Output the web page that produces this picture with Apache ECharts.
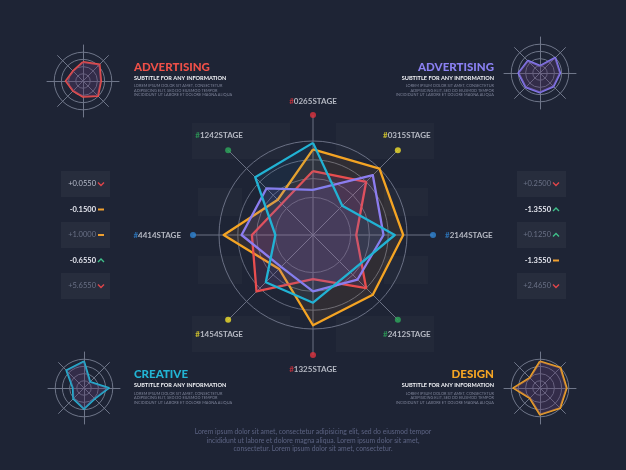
<!DOCTYPE html>
<html><head><meta charset="utf-8">
<script src="https://cdn.jsdelivr.net/npm/echarts@6/dist/echarts.min.js"></script>
<style>html,body{margin:0;padding:0;background:#1e2435}#c{width:626px;height:470px}</style>
</head><body><div id="c"></div>
<script>
// axes, counterclockwise from top
const indicators = ['0265STAGE','1242STAGE','4414STAGE','1454STAGE','1325STAGE','2412STAGE','2144STAGE','0315STAGE'];
const dotColors = ['#e0333f','#2eaa5c','#2f86d6','#f2e12c','#e0333f','#2eaa5c','#2f86d6','#f2e12c'];
const orangeValues = [91,53,95,51,96,90,96,100];
const redValues    = [68,47,65,85,47,80,46,80];
const purpleValues = [48,70,76,48,60,67,75,90];
const cyanValues   = [98,87,40,71,72,56,87,44];

// corner mini radars
const miniRedValues    = [53,39,48,39,44,59,50,65];
const miniPurpleValues = [20,48,60,56,54,53,56,60];
const miniCyanValues   = [74,69,31,42,58,42,69,24];
const miniOrangeValues = [74,40,74,40,74,79,74,80];

// side indicator values
const leftValues  = ['+0.0550','-0.1500','+1.0000','-0.6550','+5.6550'];
const leftIcons   = ['down','dash','dash','up','down'];
const rightValues = ['+0.2500','-1.3550','+0.1250','-1.3550','+2.4650'];
const rightIcons  = ['down','up','up','dash','down'];

const FONT = 'Lato, "Open Sans", sans-serif';
const chart = echarts.init(document.getElementById('c'));

const T = 'rgba(0,0,0,0)';
const mkRadar = (center, radius, split, colors) => ({
  center, radius, startAngle: 90, shape: 'circle', splitNumber: split,
  indicator: indicators.map(n => ({name: n, min: 0, max: 100})),
  axisName: {show: false},
  axisLine: {show: false},
  axisTick: {show: false},
  splitArea: {show: false},
  splitLine: {lineStyle: {color: colors, width: 1}}
});

const miniCenters = [[83,81],[540,73],[84,388],[540,388]];
const radars = [mkRadar([313,235], 94, 5, [T, T, '#596073', '#5e6477', '#63697c', '#6a7084'])];
miniCenters.forEach(c => {
  const r = mkRadar(c, 36, 5, [T, '#6f7689','#6f7689','#6f7689','#6f7689', T]);
  r.axisLine = {show: true, lineStyle: {color: '#6f7689', width: 1}};
  radars.push(r);
});

const mainSeries = [
  {v: orangeValues, c: '#f5a524', a: 'rgba(245,150,36,0.12)'},
  {v: redValues, c: '#ea4e4a', a: 'rgba(210,80,160,0.17)'},
  {v: purpleValues, c: '#8d7ef0', a: 'rgba(141,110,240,0.15)'},
  {v: cyanValues, c: '#22b4d4', a: 'rgba(34,140,212,0.10)'}
];
const miniSeries = [
  {v: miniRedValues, c: '#ea4e4a'},
  {v: miniPurpleValues, c: '#8478ee'},
  {v: miniCyanValues, c: '#22b4d4'},
  {v: miniOrangeValues, c: '#f5a524'}
];

const series = [{
  type: 'radar', radarIndex: 0, symbol: 'none', silent: true,
  data: mainSeries.map(s => ({value: s.v, lineStyle: {color: s.c, width: 2.3}, areaStyle: {color: s.a}}))
}];
miniSeries.forEach((s, i) => series.push({
  type: 'radar', radarIndex: i + 1, symbol: 'none', silent: true,
  data: [{value: s.v, lineStyle: {color: s.c, width: 2}, areaStyle: {color: 'rgba(90,60,110,0.5)'}}]
}));

// label placement per axis
const labelPos = [
  {position: 'top', offset: [0, -2]},
  {position: 'top', offset: [-9, -3]},
  {position: 'left', offset: [-4, 0]},
  {position: 'bottom', offset: [-9, 3]},
  {position: 'bottom', offset: [0, 2]},
  {position: 'bottom', offset: [9, 3]},
  {position: 'right', offset: [4, 0]},
  {position: 'top', offset: [9, -3]}
];
series.push({
  type: 'scatter', coordinateSystem: 'polar', symbolSize: 6, silent: true, z: 5,
  data: indicators.map((n, i) => ({
    value: [100, n],
    itemStyle: {color: dotColors[i]},
    label: {
      show: true, ...labelPos[i],
      formatter: '{h|#}{t|' + n + '}',
      rich: {
        h: {color: dotColors[i], fontSize: 8, fontWeight: 'bold', fontFamily: FONT},
        t: {color: '#d9dce5', fontSize: 8, fontWeight: 'bold', fontFamily: FONT}
      }
    }
  }))
});

// graphics: side boxes, texts
const g = [];
const rowsY = [184, 209.5, 235, 260.5, 286];
const boxFill = 'rgba(255,255,255,0.045)';
function icon(type, x, y) {
  if (type === 'dash') return {type: 'line', shape: {x1: x-3, y1: y, x2: x+3, y2: y}, style: {stroke: '#f0a030', lineWidth: 2}};
  const d = type === 'down' ? 1 : -1;
  const col = type === 'down' ? '#e0454a' : '#3fc08a';
  return {type: 'polyline', shape: {points: [[x-3, y-1.5*d], [x, y+1.5*d], [x+3, y-1.5*d]]}, style: {stroke: col, lineWidth: 1.4, fill: null}};
}
function side(values, icons, boxX, textRight, iconX) {
  values.forEach((v, i) => {
    const boxed = i % 2 === 0;
    if (boxed) g.push({type: 'rect', shape: {x: boxX, y: rowsY[i]-13, width: 49, height: 26}, style: {fill: boxFill}});
    const col = boxed ? (i === 0 && boxX < 300 ? '#b8bccb' : '#6a7186') : '#e4e6ee';
    g.push({type: 'text', style: {text: v, x: textRight, y: rowsY[i], textAlign: 'right', textVerticalAlign: 'middle', fill: col, fontSize: 7.5, fontWeight: boxed ? 'normal' : 'bold', fontFamily: FONT}});
    g.push(icon(icons[i], iconX, rowsY[i]));
  });
}
side(leftValues, leftIcons, 61, 96, 101);
side(rightValues, rightIcons, 517, 551, 556);

// panels behind stage labels
[[192,123,98,36],[336,123,98,36],[192,316,98,36],[336,316,98,36],[198,188,44,28],[198,256,44,28],[384,188,44,28],[384,256,44,28]].forEach(r =>
  g.push({type: 'rect', z: -1, shape: {x: r[0], y: r[1], width: r[2], height: r[3]}, style: {fill: 'rgba(255,255,255,0.025)'}}));

const lorem3 = ['LOREM IPSUM DOLOR SIT AMET, CONSECTETUR','ADIPISICING ELIT, SED DO EIUSMOD TEMPOR','INCIDIDUNT UT LABORE ET DOLORE MAGNA ALIQUA'];
function block(title, color, x, align, yT) {
  g.push({type: 'text', style: {text: title, x, y: yT, textAlign: align, textVerticalAlign: 'middle', fill: color, fontSize: 11.5, fontWeight: 900, fontFamily: FONT}});
  g.push({type: 'text', style: {text: 'SUBTITLE FOR ANY INFORMATION', x, y: yT + 11, textAlign: align, textVerticalAlign: 'middle', fill: '#f2f3f7', fontSize: 5.6, fontWeight: 'bold', fontFamily: FONT}});
  lorem3.forEach((t, k) => g.push({type: 'text', style: {text: t, x, y: yT + 19 + k * 4.5, textAlign: align, textVerticalAlign: 'middle', fill: '#7d8398', fontSize: 3.9, fontFamily: FONT}}));
}
block('ADVERTISING', '#ee5048', 134, 'left', 67);
block('ADVERTISING', '#8a80f2', 494, 'right', 67);
block('CREATIVE', '#22b4d4', 134, 'left', 374.5);
block('DESIGN', '#f5a524', 494, 'right', 374.5);

const bottomLorem = ['Lorem ipsum dolor sit amet, consectetur adipisicing elit, sed do eiusmod tempor',
  'incididunt ut labore et dolore magna aliqua. Lorem ipsum dolor sit amet,',
  'consectetur. Lorem ipsum dolor sit amet, consectetur.'];
bottomLorem.forEach((t, k) => g.push({type: 'text', style: {text: t, x: 313, y: 432 + k * 8.5, textAlign: 'center', textVerticalAlign: 'middle', fill: '#5c6382', fontSize: 6.8, fontFamily: FONT}}));

chart.setOption({
  backgroundColor: '#1e2435',
  animation: false,
  radar: radars,
  polar: {center: [313, 235], radius: 120},
  angleAxis: {
    type: 'category', data: indicators, startAngle: 90, clockwise: false, boundaryGap: false,
    axisLine: {show: false}, axisTick: {show: false}, axisLabel: {show: false},
    splitLine: {show: true, lineStyle: {color: '#6a7083', width: 1}}
  },
  radiusAxis: {type: 'value', min: 0, max: 100, axisLine: {show: false}, axisTick: {show: false}, axisLabel: {show: false}, splitLine: {show: false}},
  series,
  graphic: g
});
</script></body></html>
